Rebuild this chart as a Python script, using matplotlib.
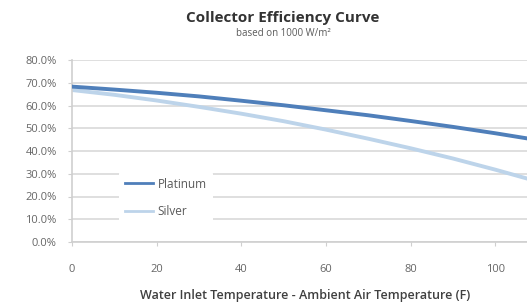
import matplotlib
matplotlib.use("Agg")
import matplotlib.pyplot as plt
from matplotlib.ticker import FuncFormatter

# temperature difference (F) and efficiency (%)
temp_diff = [0, 10, 20, 30, 40, 50, 60, 70, 80, 90, 100, 110]
platinum = [68.3, 67.0, 65.6, 64.0, 62.1, 60.1, 57.9, 55.7, 53.2, 50.6, 47.8, 44.8]
silver = [66.8, 64.7, 62.2, 59.4, 56.4, 53.1, 49.4, 45.4, 41.2, 36.7, 31.8, 26.6]

x_ticks = [0, 20, 40, 60, 80, 100]
y_ticks = [0, 10, 20, 30, 40, 50, 60, 70, 80]

plt.rcParams['font.family'] = ['Open Sans', 'DejaVu Sans']

fig = plt.figure(figsize=(5.27, 3.06), dpi=100)
ax = fig.add_axes([72 / 527, 1 - 242 / 306, 1 - 72 / 527, (242 - 60) / 306])

ax.plot(temp_diff, platinum, color='#4f7fba', lw=2.8, label='Platinum', zorder=3)
ax.plot(temp_diff, silver, color='#bdd4ea', lw=2.8, label='Silver', zorder=2)

ax.set_xlim(0, 107.5)
ax.set_ylim(0, 80)
ax.set_xticks(x_ticks)
ax.set_yticks(y_ticks)
ax.yaxis.set_major_formatter(FuncFormatter(lambda v, p: "%.1f%%" % v))
ax.grid(axis='y', color='#d9d9d9', lw=1.2)
ax.set_axisbelow(True)

for side in ['top', 'right']:
    ax.spines[side].set_visible(False)
for side in ['left', 'bottom']:
    ax.spines[side].set_color('#cfcfcf')
    ax.spines[side].set_linewidth(1.2)

ax.tick_params(axis='both', colors='#cfcfcf', labelcolor='#666666', labelsize=8, length=3)
ax.tick_params(axis='x', pad=13)
ax.tick_params(axis='y', pad=8)

leg = ax.legend(loc='lower left', bbox_to_anchor=(0.09, 0.065), frameon=True,
                fontsize=8.5, handlelength=2.4, handletextpad=0.4,
                labelspacing=1.25, borderpad=0.5)
leg.get_frame().set_edgecolor('none')
leg.get_frame().set_facecolor('white')
leg.get_frame().set_alpha(1)
for line in leg.get_lines():
    line.set_linewidth(2.0)
for t in leg.get_texts():
    t.set_color('#5a5a5a')

fig.text(283 / 527, 1 - 18 / 306, 'Collector Efficiency Curve', ha='center', va='center',
         fontsize=11, fontweight='bold', color='#333333')
fig.text(283 / 527, 1 - 34 / 306, 'based on 1000 W/m²', ha='center', va='center',
         fontsize=7, color='#5a5a5a')
fig.text(305 / 527, 1 - 296 / 306, 'Water Inlet Temperature - Ambient Air Temperature (F)',
         ha='center', va='center', fontsize=9, fontweight='semibold', color='#404040')

fig.savefig('out.png', dpi=100)
